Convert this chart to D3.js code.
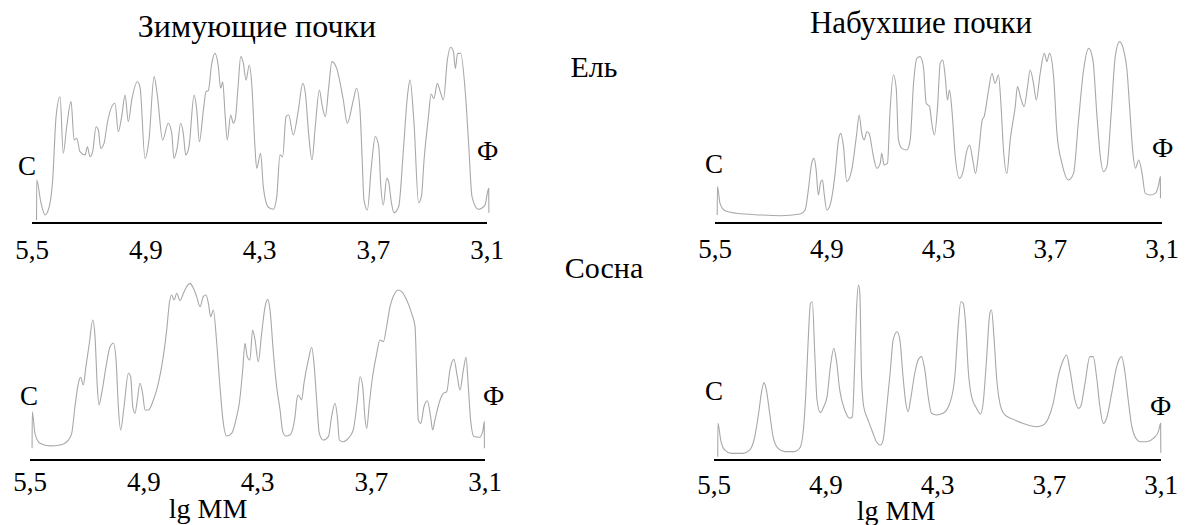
<!DOCTYPE html>
<html>
<head>
<meta charset="utf-8">
<script src="https://cdn.jsdelivr.net/npm/d3@7"></script>
</head>
<body style="margin:0">
<svg width="1192" height="525"></svg>
<script>
const FONT = "Liberation Serif";

// lg MM ticks on every axis (high MM on the left)
const ticks = [5.5, 4.9, 4.3, 3.7, 3.1];
const tickLabels = ["5,5", "4,9", "4,3", "3,7", "3,1"];

// ель, зимующие почки  [lg MM, relative intensity]
const spruceWinter = [[5.476,1.6],[5.475,23.5],[5.454,11.7],[5.431,4.4],[5.409,8.9],[5.391,23.5],[5.373,58.1],[5.352,69.0],[5.335,38.1],[5.317,52.6],[5.294,66.3],[5.278,45.4],[5.264,46.3],[5.247,39.0],[5.220,37.2],[5.208,41.7],[5.194,36.2],[5.180,39.0],[5.162,52.6],[5.150,50.8],[5.138,40.8],[5.120,43.5],[5.103,54.5],[5.062,65.4],[5.045,49.9],[5.027,58.1],[5.009,69.9],[4.992,55.4],[4.974,67.2],[4.944,77.2],[4.930,74.1],[4.904,35.3],[4.883,45.4],[4.856,80.0],[4.839,69.9],[4.811,45.4],[4.781,54.5],[4.763,49.0],[4.751,35.3],[4.733,41.7],[4.716,54.5],[4.702,49.0],[4.689,37.2],[4.672,41.7],[4.645,69.9],[4.631,61.7],[4.617,44.4],[4.596,61.7],[4.582,71.8],[4.570,72.3],[4.552,87.2],[4.535,92.7],[4.517,85.4],[4.505,73.6],[4.494,77.2],[4.482,59.9],[4.470,45.4],[4.452,59.0],[4.438,54.5],[4.427,57.2],[4.413,74.5],[4.399,90.9],[4.385,87.2],[4.371,78.1],[4.354,86.3],[4.340,74.5],[4.324,41.7],[4.315,29.9],[4.294,38.1],[4.280,19.9],[4.253,8.6],[4.227,7.5],[4.209,14.4],[4.192,37.2],[4.178,36.2],[4.160,58.1],[4.146,59.0],[4.122,48.1],[4.095,61.7],[4.072,76.3],[4.058,70.9],[4.041,49.0],[4.023,34.4],[4.006,52.6],[3.984,72.7],[3.970,64.5],[3.953,58.1],[3.935,74.1],[3.918,88.2],[3.893,84.5],[3.858,67.2],[3.837,54.5],[3.805,67.2],[3.788,73.6],[3.770,61.7],[3.759,36.2],[3.749,12.6],[3.731,7.1],[3.710,30.8],[3.689,47.2],[3.671,41.7],[3.661,21.7],[3.647,9.8],[3.629,24.4],[3.619,22.6],[3.605,11.7],[3.591,5.6],[3.566,8.9],[3.541,39.9],[3.520,69.0],[3.506,78.1],[3.485,54.5],[3.461,11.1],[3.446,14.4],[3.432,34.4],[3.408,59.0],[3.395,70.5],[3.380,68.1],[3.362,76.3],[3.344,70.9],[3.330,67.2],[3.309,89.1],[3.292,96.0],[3.277,93.6],[3.267,84.5],[3.255,92.7],[3.239,92.7],[3.214,70.9],[3.197,43.5],[3.179,14.4],[3.146,7.5],[3.111,9.8],[3.091,18.9],[3.090,5.6]];

// ель, набухшие почки
const spruceSwollen = [[5.488,4.4],[5.487,19.9],[5.473,10.7],[5.446,6.7],[5.384,5.3],[5.258,4.4],[5.151,4.0],[5.043,4.9],[5.016,7.1],[4.999,18.0],[4.981,32.6],[4.968,35.3],[4.957,29.0],[4.945,15.3],[4.932,22.6],[4.923,23.5],[4.914,16.2],[4.900,7.1],[4.882,9.8],[4.855,27.1],[4.837,45.4],[4.825,49.0],[4.810,41.7],[4.793,22.6],[4.766,29.0],[4.739,49.0],[4.726,59.0],[4.712,49.0],[4.699,45.4],[4.685,49.9],[4.673,49.0],[4.649,36.2],[4.631,29.9],[4.613,32.6],[4.605,38.1],[4.592,31.7],[4.574,32.6],[4.560,61.7],[4.542,80.9],[4.527,73.6],[4.515,45.4],[4.497,40.8],[4.470,39.9],[4.452,45.4],[4.434,76.3],[4.416,90.0],[4.399,90.9],[4.381,85.4],[4.366,65.4],[4.348,63.6],[4.336,54.5],[4.322,48.1],[4.305,63.6],[4.291,87.2],[4.277,89.1],[4.264,80.0],[4.252,67.2],[4.241,72.7],[4.228,61.7],[4.210,36.2],[4.187,24.4],[4.166,29.0],[4.151,38.1],[4.133,42.6],[4.116,34.4],[4.101,27.1],[4.085,38.1],[4.065,56.3],[4.055,58.1],[4.031,72.7],[4.013,81.8],[3.996,76.3],[3.978,80.9],[3.965,65.4],[3.951,39.9],[3.933,27.1],[3.915,45.4],[3.888,63.6],[3.876,74.5],[3.858,68.1],[3.840,63.6],[3.822,74.5],[3.808,83.6],[3.790,76.3],[3.775,67.2],[3.754,81.8],[3.732,92.7],[3.718,88.2],[3.704,92.7],[3.682,80.0],[3.664,49.0],[3.637,32.6],[3.602,23.5],[3.575,27.1],[3.548,56.3],[3.521,83.6],[3.494,95.4],[3.471,89.1],[3.449,58.1],[3.431,36.2],[3.414,28.1],[3.396,30.8],[3.374,58.1],[3.351,90.9],[3.328,99.1],[3.306,94.5],[3.288,83.6],[3.274,63.6],[3.256,38.1],[3.243,29.9],[3.225,34.4],[3.207,27.1],[3.190,16.2],[3.163,15.3],[3.136,16.2],[3.118,20.8],[3.109,25.3],[3.108,13.5]];

// сосна, зимующие почки
const pineWinter = [[5.489,6.4],[5.488,26.4],[5.474,14.6],[5.447,9.1],[5.395,7.7],[5.342,8.2],[5.298,10.9],[5.280,14.6],[5.263,29.1],[5.245,41.9],[5.233,45.2],[5.219,41.0],[5.205,51.0],[5.187,63.8],[5.169,76.5],[5.157,67.4],[5.145,40.1],[5.136,30.1],[5.122,36.4],[5.099,51.0],[5.078,61.9],[5.060,63.8],[5.046,54.6],[5.034,29.1],[5.022,16.4],[5.004,29.1],[4.981,47.4],[4.969,45.5],[4.958,29.1],[4.946,25.5],[4.934,32.8],[4.920,41.9],[4.906,36.4],[4.893,27.3],[4.876,27.3],[4.849,32.8],[4.823,41.9],[4.797,56.5],[4.779,71.0],[4.765,85.6],[4.753,90.2],[4.740,87.4],[4.726,91.1],[4.709,87.1],[4.691,91.1],[4.674,94.7],[4.656,96.5],[4.638,93.8],[4.621,89.3],[4.603,83.8],[4.586,89.3],[4.572,90.2],[4.559,85.6],[4.547,78.3],[4.533,82.0],[4.515,63.8],[4.498,40.1],[4.480,20.0],[4.463,13.1],[4.436,14.6],[4.410,23.7],[4.396,31.0],[4.378,49.2],[4.366,63.8],[4.354,56.5],[4.340,54.6],[4.326,71.0],[4.313,65.6],[4.296,53.7],[4.278,69.2],[4.260,83.8],[4.246,87.8],[4.234,82.0],[4.216,58.3],[4.199,40.1],[4.181,27.3],[4.167,15.5],[4.150,13.1],[4.129,13.7],[4.102,23.7],[4.093,32.8],[4.085,35.5],[4.067,32.8],[4.055,41.9],[4.032,54.6],[4.014,61.6],[4.002,52.8],[3.988,32.8],[3.974,14.6],[3.953,10.9],[3.926,12.8],[3.909,23.7],[3.891,31.0],[3.879,23.7],[3.868,10.9],[3.847,10.0],[3.821,11.8],[3.795,16.4],[3.773,32.8],[3.759,45.5],[3.745,40.1],[3.733,22.8],[3.724,17.3],[3.710,31.0],[3.693,45.5],[3.671,58.3],[3.654,65.6],[3.636,64.7],[3.619,72.9],[3.601,83.8],[3.584,89.3],[3.557,92.9],[3.540,92.0],[3.513,87.4],[3.487,80.1],[3.469,72.9],[3.460,45.5],[3.452,21.9],[3.439,20.0],[3.422,29.1],[3.404,32.4],[3.387,23.7],[3.376,16.4],[3.364,21.9],[3.337,32.8],[3.320,36.4],[3.302,37.3],[3.285,49.2],[3.264,55.0],[3.246,45.5],[3.232,38.3],[3.214,49.2],[3.200,56.1],[3.188,40.1],[3.176,21.9],[3.158,12.8],[3.130,12.4],[3.112,15.5],[3.104,20.9],[3.103,6.4]];

// сосна, набухшие почки
const pineSwollen = [[5.480,1.8],[5.479,20.0],[5.464,10.9],[5.443,5.5],[5.407,3.6],[5.344,3.6],[5.308,5.5],[5.281,12.8],[5.258,27.3],[5.246,36.4],[5.231,42.3],[5.219,38.3],[5.201,25.5],[5.183,12.8],[5.156,6.4],[5.120,4.6],[5.067,4.6],[5.040,6.4],[5.022,14.6],[5.007,36.4],[4.995,63.8],[4.982,85.6],[4.972,86.5],[4.959,58.3],[4.947,32.8],[4.929,25.9],[4.911,29.1],[4.893,34.6],[4.875,51.0],[4.857,61.0],[4.843,54.6],[4.825,38.3],[4.798,27.3],[4.771,22.8],[4.757,23.7],[4.744,54.6],[4.735,82.0],[4.724,95.6],[4.717,91.1],[4.708,45.5],[4.696,29.1],[4.673,21.9],[4.646,14.6],[4.628,10.0],[4.606,8.2],[4.592,10.9],[4.574,27.3],[4.553,49.2],[4.538,65.6],[4.517,70.1],[4.502,65.6],[4.485,45.5],[4.470,31.0],[4.458,26.4],[4.445,32.8],[4.422,47.4],[4.404,54.6],[4.386,56.5],[4.368,49.2],[4.350,34.6],[4.332,25.5],[4.305,24.6],[4.270,25.5],[4.234,31.0],[4.207,45.5],[4.189,72.9],[4.175,86.5],[4.162,85.6],[4.148,72.9],[4.135,49.2],[4.117,34.6],[4.090,28.2],[4.069,25.1],[4.055,31.0],[4.037,54.6],[4.019,80.1],[4.010,82.0],[3.997,67.4],[3.983,45.5],[3.965,31.0],[3.938,24.6],[3.893,22.2],[3.840,20.0],[3.768,18.2],[3.732,19.1],[3.705,22.8],[3.679,31.0],[3.652,45.5],[3.625,54.6],[3.607,57.4],[3.589,49.2],[3.562,32.8],[3.544,28.2],[3.532,29.1],[3.508,41.9],[3.482,56.5],[3.464,56.5],[3.446,45.5],[3.428,29.1],[3.410,20.0],[3.392,22.8],[3.365,36.4],[3.338,51.0],[3.311,56.5],[3.293,47.4],[3.276,32.8],[3.258,19.1],[3.240,12.8],[3.213,10.0],[3.177,10.0],[3.141,11.8],[3.114,15.5],[3.102,20.0],[3.101,4.0]];

// panel layout
const panels = [
  { data: spruceWinter,  x0: 32,  x1: 487,  y0: 223, tickY: 259, c: [18, 175],  f: [477, 160] },
  { data: spruceSwollen, x0: 715, x1: 1162, y0: 223, tickY: 258, c: [705, 173], f: [1152, 157] },
  { data: pineWinter,    x0: 30,  x1: 485,  y0: 460, tickY: 491, c: [20, 405],  f: [483, 405] },
  { data: pineSwollen,   x0: 714, x1: 1161, y0: 460, tickY: 494, c: [705, 400], f: [1150, 415] }
];

const svg = d3.select("svg");

panels.forEach(p => {
  const x = d3.scaleLinear().domain([5.5, 3.1]).range([p.x0, p.x1]);
  const y = d3.scaleLinear().domain([0, 100]).range([p.y0, p.y0 - 183]);
  const g = svg.append("g");

  const line = d3.line()
    .x(d => x(d[0]))
    .y(d => y(d[1]))
    .curve(d3.curveMonotoneX);

  g.append("path")
    .datum(p.data)
    .attr("d", line)
    .attr("fill", "none")
    .attr("stroke", "#a8a8a8")
    .attr("stroke-width", 1.1);

  // baseline
  g.append("line")
    .attr("x1", p.x0).attr("x2", p.x1)
    .attr("y1", p.y0).attr("y2", p.y0)
    .attr("stroke", "#000")
    .attr("stroke-width", 2.2);

  g.selectAll(".tick")
    .data(ticks)
    .enter()
    .append("text")
    .attr("x", d => x(d))
    .attr("y", p.tickY)
    .attr("text-anchor", "middle")
    .attr("font-family", FONT)
    .attr("font-size", 27)
    .text((d, i) => tickLabels[i]);

  g.append("text").attr("x", p.c[0]).attr("y", p.c[1])
    .attr("font-family", FONT).attr("font-size", 27).text("С");
  g.append("text").attr("x", p.f[0]).attr("y", p.f[1])
    .attr("font-family", FONT).attr("font-size", 27).text("Ф");
});

// titles and labels
const labels = [
  { t: "Зимующие почки", x: 257, y: 37,  a: "middle", s: 32 },
  { t: "Набухшие почки", x: 921, y: 33,  a: "middle", s: 31 },
  { t: "Ель",            x: 594, y: 77,  a: "middle", s: 30 },
  { t: "Сосна",          x: 604, y: 278, a: "middle", s: 30 },
  { t: "lg MM",          x: 208, y: 518, a: "middle", s: 28 },
  { t: "lg MM",          x: 896, y: 520, a: "middle", s: 28 }
];

svg.selectAll(".lbl")
  .data(labels)
  .enter()
  .append("text")
  .attr("x", d => d.x)
  .attr("y", d => d.y)
  .attr("text-anchor", d => d.a)
  .attr("font-family", FONT)
  .attr("font-size", d => d.s)
  .text(d => d.t);
</script>
</body>
</html>
